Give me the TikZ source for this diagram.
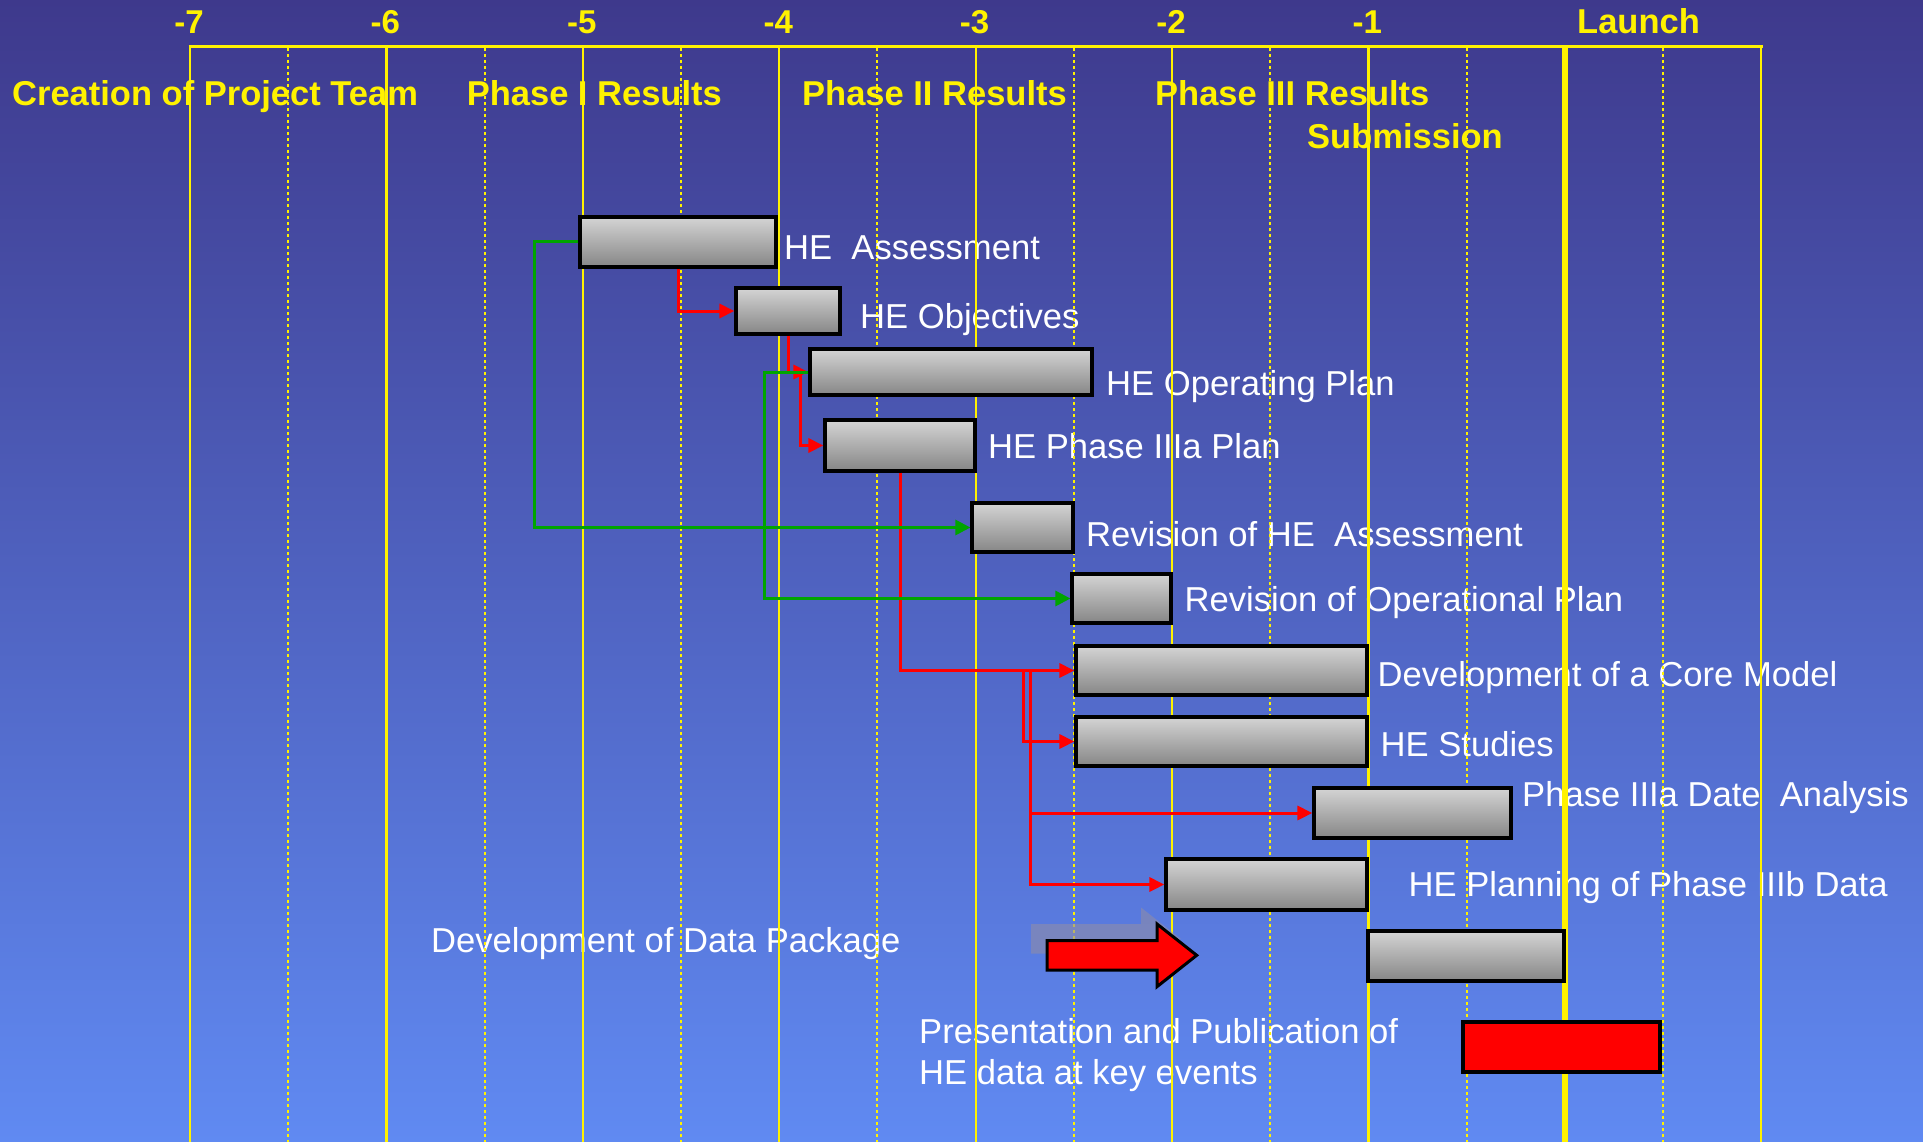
\documentclass[tikz,border=0pt]{standalone}
\usepackage{fontspec}
\setmainfont{Liberation Sans}
\usetikzlibrary{arrows.meta,calc}
\definecolor{bgtop}{RGB}{62,57,140}
\definecolor{bgbottom}{RGB}{96,138,242}
\definecolor{barlight}{RGB}{212,212,212}
\definecolor{bardark}{RGB}{134,134,134}
\definecolor{linkgreen}{RGB}{0,165,0}
\definecolor{arrowshadow}{RGB}{142,140,168}
\begin{document}
\begin{tikzpicture}[x=1pt,y=-1pt,
  gridsolid/.style={yellow, line width=2.2pt},
  griddotted/.style={yellow, line width=2pt, dash pattern=on 3pt off 3pt},
  taskbar/.style={draw=black, line width=3.2pt, top color=barlight, bottom color=bardark, inner sep=0pt},
  tasktext/.style={text=white, font=\fontsize{34.6}{41}\selectfont, inner sep=0pt, anchor=base west},
  phasetext/.style={text=yellow, font=\bfseries\fontsize{34.5}{41}\selectfont, inner sep=0pt, anchor=base west},
  ticktext/.style={text=yellow, font=\bfseries\fontsize{33}{40}\selectfont, inner sep=0pt, anchor=base},
  redlink/.style={draw=red, line width=3pt, -{Triangle[length=15pt,width=14pt]}},
  greenlink/.style={draw=linkgreen, line width=3pt, -{Triangle[length=15pt,width=15pt]}},
  bigarrow/.pic={
    \path[pic actions] (0,0) -- (110,0) -- (110,-16.5) -- (149.7,14.8) -- (110,46.2) -- (110,29.5) -- (0,29.5) -- cycle;
  }]

% background
\fill[top color=bgtop, bottom color=bgbottom] (0,0) rectangle (1923,1142);
\useasboundingbox (0,0) rectangle (1923,1142);

% year labels and milestone headings
\foreach \k/\t in {0/-7,1/-6,2/-5,3/-4,4/-3,5/-2,6/-1}
  \node[ticktext] (tick\k) at ({189+196.4*\k},33.3) {\t};
\node[phasetext] (launch) at (1577,33.3) {Launch};
\node[phasetext] (team) at (12,106) {Creation of Project Team};
\node[phasetext] (ph1) at (466.6,106) {Phase I Results};
\node[phasetext] (ph2) at (802,106) {Phase II Results};
\node[phasetext] (ph3) at (1155,106) {Phase III Results};
\node[phasetext] (sub) at (1307,148.3) {Submission};

% task labels
\node[tasktext] (tA) at (784,260) {HE\ \ Assessment};
\node[tasktext] (tB) at (860,328) {HE Objectives};
\node[tasktext] (tC) at (1106,395.7) {HE Operating Plan};
\node[tasktext] (tD) at (988,458.3) {HE Phase IIIa Plan};
\node[tasktext] (tE) at (1086,546) {Revision of HE\ \ Assessment};
\node[tasktext] (tF) at (1184.5,611.7) {Revision of Operational Plan};
\node[tasktext] (tG) at (1377.5,686.7) {Development of a Core Model};
\node[tasktext] (tH) at (1380.5,756.7) {HE Studies};
\node[tasktext] (tI) at (1522,806) {Phase IIIa Date\ \ Analysis};
\node[tasktext] (tJ) at (1408.5,896.7) {HE Planning of Phase IIIb Data};
\node[tasktext] (tK) at (431,952.7) {Development of Data Package};
\node[tasktext] (tL1) at (919,1043.3) {Presentation and Publication of};
\node[tasktext] (tL2) at (919,1084) {HE data at key events};

% time grid
\draw[yellow, line width=3pt] (188.5,46.5) -- (1762.7,46.5);
\foreach \k in {0,...,6,8}
  \draw[gridsolid] ({190+196.4*\k},46.5) -- ({190+196.4*\k},1142);
\draw[yellow, line width=5.5pt] (1564.8,47) -- (1564.8,1142);
\foreach \k in {0,...,7}
  \draw[griddotted] ({190+196.4*(\k+0.5)},48) -- ({190+196.4*(\k+0.5)},1142);

% task bars
\node[taskbar, minimum width=196, minimum height=50] (A) at (678,242) {};
\node[taskbar, minimum width=104, minimum height=46] (B) at (788,311) {};
\node[taskbar, minimum width=282, minimum height=46] (C) at (951,372) {};
\node[taskbar, minimum width=150, minimum height=51] (D) at (900,445.5) {};
\node[taskbar, minimum width=101, minimum height=49] (E) at (1022.5,527.5) {};
\node[taskbar, minimum width=99, minimum height=49] (F) at (1121.5,598.5) {};
\node[taskbar, minimum width=291, minimum height=49] (G) at (1221.5,670.5) {};
\node[taskbar, minimum width=291, minimum height=49] (H) at (1221.5,741.5) {};
\node[taskbar, minimum width=197, minimum height=50] (I) at (1412.5,813) {};
\node[taskbar, minimum width=201, minimum height=51] (J) at (1266.5,884.5) {};
\node[taskbar, minimum width=196, minimum height=50] (K) at (1466,956) {};
\node[draw=black, line width=3.2pt, fill=red, inner sep=0pt, minimum width=197, minimum height=50] (L) at (1561.5,1047) {};

% dependencies
\coordinate (bsplit) at ($(B.south |- C.west)+(12.4,0)$);
\coordinate (gsplitA) at ($(G.west)+(-50.6,0)$);
\coordinate (gsplitB) at ($(G.west)+(-44,0)$);
\draw[redlink] (A.south) |- (B.west);
\draw[redlink] (B.south) |- (C.west);
\draw[redlink] (bsplit) |- (D.west);
\draw[redlink] (D.south) |- (G.west);
\draw[redlink] (gsplitA) |- (H.west);
\draw[redlink] (gsplitB) |- (I.west);
\draw[redlink] (gsplitB) |- (J.west);
\draw[greenlink] (A.west) -- ++(-44.4,0) |- (E.west);
\draw[greenlink] (C.west) -- ++(-44,0) |- (F.west);

% block arrow with its drop shadow
\pic[fill=arrowshadow, fill opacity=0.6] at (1031,924) {bigarrow};
\pic[fill=red, draw=black, line width=3pt] at (1047,940.5) {bigarrow};
\end{tikzpicture}
\end{document}
